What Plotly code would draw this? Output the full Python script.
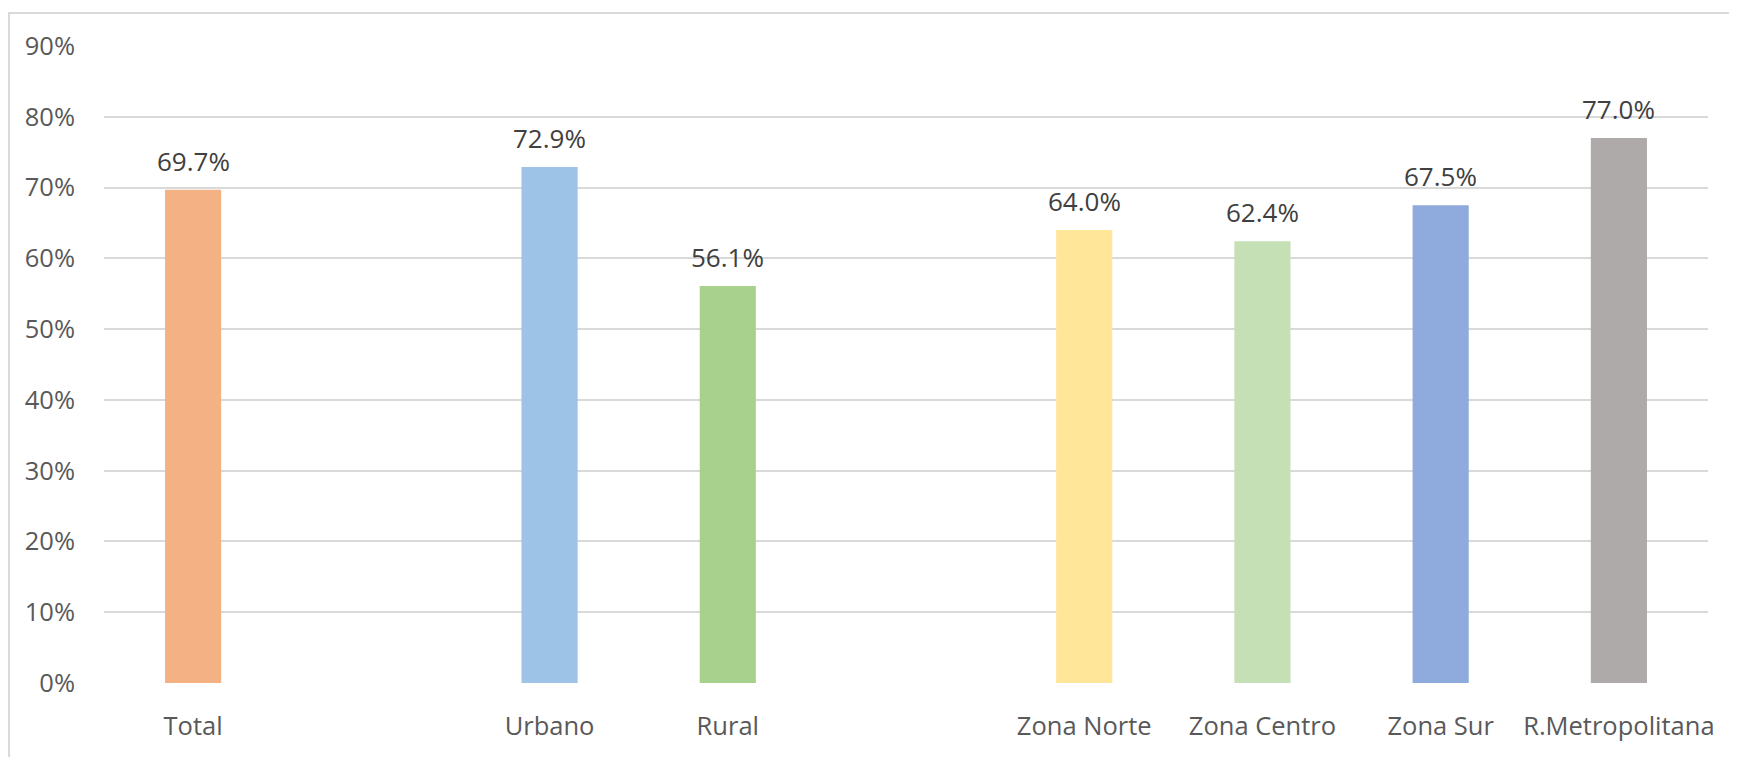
import plotly.graph_objects as go

categories = ["Total", " ", "Urbano", "Rural", "  ", "Zona Norte", "Zona Centro", "Zona Sur", "R.Metropolitana"]
values = [69.7, None, 72.9, 56.1, None, 64.0, 62.4, 67.5, 77.0]
labels = ["69.7%", "", "72.9%", "56.1%", "", "64.0%", "62.4%", "67.5%", "77.0%"]
colors = ["#F4B183", "#FFFFFF", "#9DC3E6", "#A9D18E", "#FFFFFF", "#FFE699", "#C5E0B4", "#8FAADC", "#AEAAAA"]
tick_vals = [0, 10, 20, 30, 40, 50, 60, 70, 80, 90]
tick_text = ["0%", "10%", "20%", "30%", "40%", "50%", "60%", "70%", "80%", "90%"]

FONT = "Open Sans"

fig = go.Figure()
fig.add_trace(go.Bar(
    x=categories, y=values, marker=dict(color=colors, line=dict(width=0)),
    hoverinfo="skip",
))

for c, v, t in zip(categories, values, labels):
    if v is None:
        continue
    fig.add_annotation(x=c, y=v, text=t, showarrow=False, yanchor="bottom",
                       yshift=9, font=dict(family=FONT, size=26, color="#404040"))

fig.add_shape(type="rect", xref="paper", yref="paper",
              x0=-0.0592, y0=-0.2, x1=1.1, y1=1.0518,
              line=dict(color="#D9D9D9", width=2), fillcolor="rgba(0,0,0,0)", layer="below")

fig.update_layout(
    width=1737, height=757,
    margin=dict(l=96, r=37, t=38, b=82),
    paper_bgcolor="white", plot_bgcolor="white",
    showlegend=False,
    bargap=0.685,
    font=dict(family=FONT, size=25.5, color="#595959"),
    xaxis=dict(type="category", categoryorder="array", categoryarray=categories,
               showgrid=False, zeroline=False, showline=False, ticks="",
               ticklabelstandoff=25, tickfont=dict(family=FONT, size=25.5, color="#595959")),
    yaxis=dict(range=[0, 90], tickvals=tick_vals, ticktext=tick_text,
               showgrid=True, gridcolor="#D9D9D9", gridwidth=2,
               zeroline=False, showline=False, ticks="",
               ticklabelstandoff=28, tickfont=dict(family=FONT, size=25.5, color="#595959")),
)

fig.write_html("out.html")
